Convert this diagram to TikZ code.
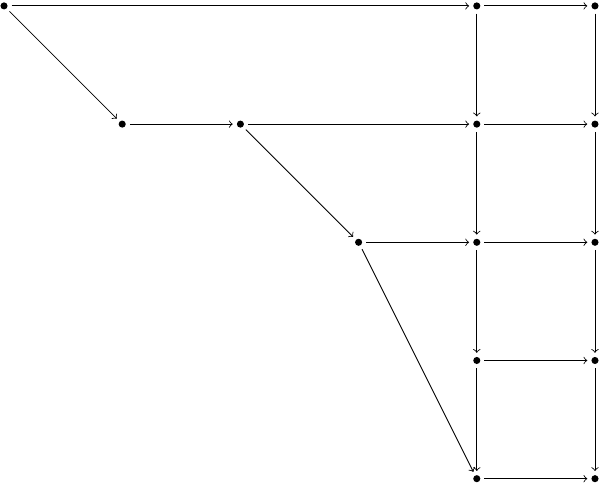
\documentclass[tikz,border=0pt]{standalone}
\usepackage{tikz}
\usetikzlibrary{positioning}
\usetikzlibrary{calc}

\begin{document}
\begin{tikzpicture}[dot/.style={circle,fill,inner sep=0pt,minimum size=0.12cm,outer sep=2pt}]
\useasboundingbox (-0.068,0.10) rectangle (10.085,-8.10);
\node[dot](A) at (0,0){};
\node[dot](B) at (8,0){};
\node[dot](C) at (10,0){};
\node[dot](D) at (2,-2){};
\node[dot](E) at (4,-2){};
\node[dot](F) at (8,-2){};
\node[dot](G) at (10,-2){};
\node[dot](H) at (6,-4){};
\node[dot](I) at (8,-4){};
\node[dot](J) at (10,-4){};
\node[dot](K) at (8,-6){};
\node[dot](L) at (10,-6){};
\node[dot](M) at (8,-8){};
\node[dot](N) at (10,-8){};


\path
(A) edge[->]node{} (B)
(B) edge[->]node{} (C)
(A) edge[->]node{} (D)
(D) edge[->]node{} (E)
(E) edge[->]node{} (F)
(F) edge[->]node{} (G)
(E) edge[->]node{} (H)
(H) edge[->]node{} (I)
(I) edge[->]node{} (J)
(H) edge[->]node{} (M)
(K) edge[->]node{} (L)
(M) edge[->]node{} (N)
(B) edge[->]node{} (F)
(F) edge[->]node{} (I)
(I) edge[->]node{} (K)
(K) edge[->]node{} (M)
(C) edge[->]node{} (G)
(G) edge[->]node{} (J)
(J) edge[->]node{} (L)
(L) edge[->]node{} (N);
\end{tikzpicture}
\end{document}
